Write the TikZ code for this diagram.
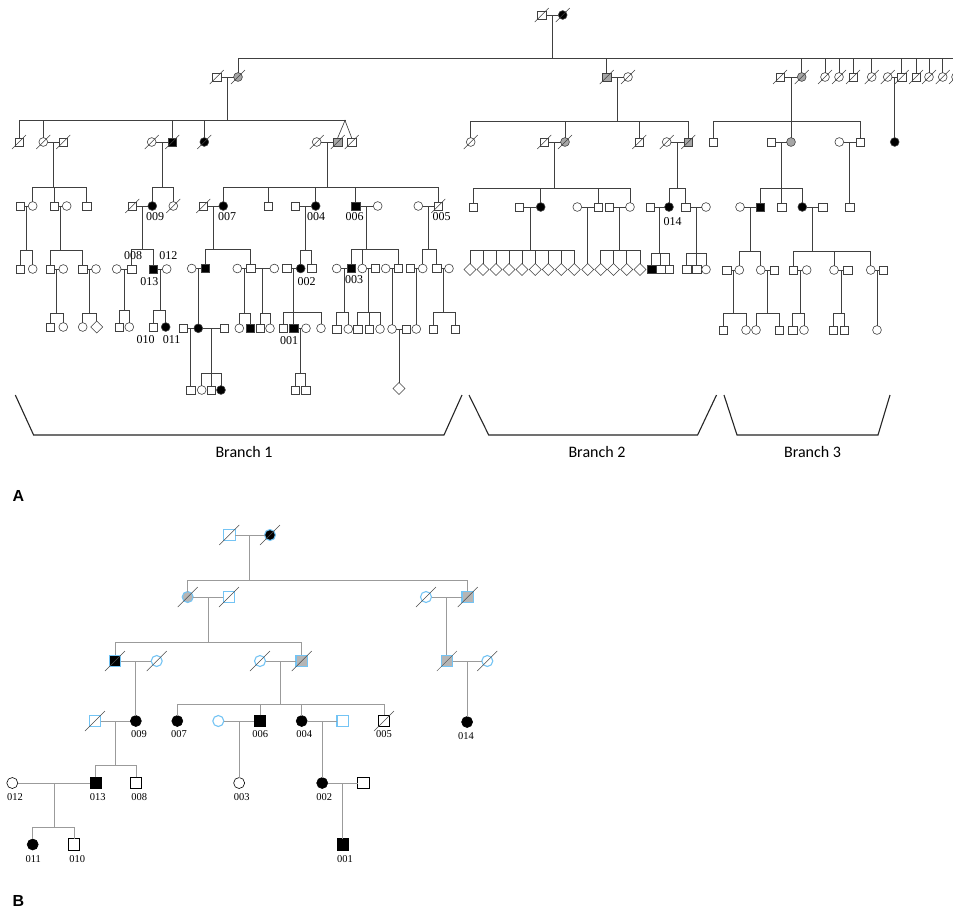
\documentclass[tikz,border=0pt]{standalone}
\usepackage{fontspec}
\setmainfont{Liberation Serif}
\newfontfamily\branchfont{Carlito}
\newfontfamily\panelfont{Liberation Sans}
\usetikzlibrary{shapes.geometric, calc}
\definecolor{pedline}{HTML}{404040}
\definecolor{carrier}{HTML}{A6A6A6}
\definecolor{lineB}{HTML}{9B9B9B}
\definecolor{carrierB}{HTML}{B5B5B5}
\definecolor{blueB}{HTML}{74C4F4}

% sibship: parents #1 #2, sibship line at y=#3, children #4
\newcommand{\kids}[4]{%
  \path ($(#1)!0.5!(#2)$) coordinate (mid);
  \draw[conn] (mid) -- (mid |- 0,#3);
  \foreach \c in {#4} {\draw[conn] (\c.north) |- (mid |- 0,#3);}
}
% only child straight below the parents
\newcommand{\onekid}[3]{%
  \path ($(#1)!0.5!(#2)$) coordinate (mid);
  \draw[conn] (mid) -- (mid |- #3.north);
}

\begin{document}
\begin{tikzpicture}[x=1pt, y=-1pt,
    base/.style={draw=pedline, line width=0.6pt, fill=white, inner sep=0pt, outer sep=0pt},
    male/.style={base, rectangle, minimum size=8.3pt},
    female/.style={base, circle, minimum size=8.8pt},
    unk/.style={base, diamond, minimum size=12pt},
    aff/.style={fill=black},
    car/.style={fill=carrier},
    slash/.style={draw=pedline, line width=0.5pt},
    dec/.style={append after command={([shift={(-7,7)}]\tikzlastnode.center) edge[slash] ([shift={(7,-7)}]\tikzlastnode.center)}},
    conn/.style={draw=pedline, line width=0.65pt},
    pid/.style={font=\fontsize{12}{12}\selectfont, inner sep=0pt},
    bracket/.style={draw=black!85, line width=1.1pt},
    branch/.style={font=\branchfont\fontsize{16}{16}\selectfont},
    panel/.style={font=\panelfont\bfseries\fontsize{16}{16}\selectfont, anchor=west, inner sep=0pt}
  ]
  \path[use as bounding box, fill=white] (0,0) rectangle (953,911);

  %%%%%%%%%%%%%%%% Panel A %%%%%%%%%%%%%%%%
  % Generation I
  \node[male, dec] (gI1) at (541.7,15) {};
  \node[female, aff, dec] (gI2) at (562.7,15) {};

  % Generation II
  \node[male, dec] (b1a) at (216.7,77) {};
  \node[female, car, dec] (b1b) at (238,77) {};
  \node[male, car, dec] (b2a) at (606.7,77) {};
  \node[female, dec] (b2b) at (628,77) {};
  \node[male, dec] (b3a) at (780,77) {};
  \node[female, car, dec] (b3b) at (801.7,77) {};
  \node[female, dec] (s1) at (825,77) {};
  \node[female, dec] (s2) at (839,77) {};
  \node[male, dec] (s3) at (853,77) {};
  \node[female, dec] (s4) at (871.7,77) {};
  \node[female, dec] (s5) at (887.7,77) {};
  \node[male, dec] (s6) at (901.7,77) {};
  \node[male, dec] (s7) at (916,77) {};
  \node[female, dec] (s8) at (929,77) {};
  \node[female, dec] (s9) at (942.7,77) {};
  \node[female, dec] (s10) at (956,77) {};

  % Generation III
  \node[male, dec] (c1) at (19,142) {};
  \node[female, dec] (c2) at (43.3,142) {};
  \node[male, dec] (c2s) at (63.3,142) {};
  \node[female, dec] (c3s) at (151.7,142) {};
  \node[male, aff, dec] (c3) at (172.3,142) {};
  \node[female, aff, dec] (c4) at (204.3,142) {};
  \node[female, dec] (c5s) at (316.7,142) {};
  \node[male, car, dec] (c5) at (337.7,142) {};
  \node[male, dec] (c6) at (351.7,142) {};
  \node[inner sep=0pt, minimum size=0pt] (tw) at (345,120.5) {};
  \node[female, dec] (d1) at (470.7,142) {};
  \node[male, dec] (d2s) at (544.3,142) {};
  \node[female, car, dec] (d2) at (565,142) {};
  \node[male, dec] (d3) at (639.3,142) {};
  \node[female, dec] (d4s) at (666.7,142) {};
  \node[male, car, dec] (d4) at (688.3,142) {};
  \node[male] (e1) at (713.3,142) {};
  \node[male] (e2s) at (771,142) {};
  \node[female, car] (e2) at (791,142) {};
  \node[female] (e3s) at (839.3,142) {};
  \node[male] (e3) at (860,142) {};
  \node[female, aff] (r0) at (894.7,142) {};

  % Generation IV
  \node[male] (f1s) at (20,206) {};
  \node[female] (f1) at (32.7,206) {};
  \node[male] (f2) at (54,206) {};
  \node[female] (f2s) at (66.7,206) {};
  \node[male] (f3) at (86.7,206) {};
  \node[male, dec] (f4s) at (132.3,206) {};
  \node[female, aff] (f4) at (152.3,206) {};
  \node[female, dec] (f5) at (173.3,206) {};
  \node[male, dec] (f6s) at (203.3,206) {};
  \node[female, aff] (f6) at (223.3,206) {};
  \node[male] (f7) at (268.3,206) {};
  \node[male] (f8s) at (295,206) {};
  \node[female, aff] (f8) at (315.7,206) {};
  \node[male, aff] (f9) at (355.7,206) {};
  \node[female] (f9s) at (377.7,206) {};
  \node[female] (f10s) at (418.3,206) {};
  \node[male, dec] (f10) at (438.3,206) {};
  \node[male] (g1) at (473.3,207) {};
  \node[male] (g2s) at (519.3,207) {};
  \node[female, aff] (g2) at (540.7,207) {};
  \node[female] (g3s) at (577.3,207) {};
  \node[male] (g3) at (598.3,207) {};
  \node[male] (g4s) at (609.3,207) {};
  \node[female] (g4) at (630,207) {};
  \node[male] (g5s) at (650,207) {};
  \node[female, aff] (g5) at (669,207) {};
  \node[male] (g6) at (685.7,207) {};
  \node[female] (g6s) at (706,207) {};
  \node[female] (h1s) at (740,207) {};
  \node[male, aff] (h1) at (760,207) {};
  \node[male] (h2) at (781.7,207) {};
  \node[female, aff] (h3) at (802.3,207) {};
  \node[male] (h3s) at (822.7,207) {};
  \node[male] (h4) at (849.7,207) {};

  % Generation V
  \node[male] (k1) at (20,269) {};
  \node[female] (k2) at (32.7,269) {};
  \node[male] (k3) at (50,269) {};
  \node[female] (k3s) at (63.3,269) {};
  \node[male] (k4) at (82.7,269) {};
  \node[female] (k4s) at (96,269) {};
  \node[female] (k5s) at (116.7,269) {};
  \node[male] (k5) at (131.7,269) {};
  \node[male, aff] (k6) at (153,269) {};
  \node[female] (k6s) at (166.7,269) {};
  \node[female] (k7s) at (191.7,268.5) {};
  \node[male, aff] (k7) at (205,268.5) {};
  \node[female] (k8s) at (237.3,268.5) {};
  \node[male] (k8) at (250.7,268.5) {};
  \node[female] (k8t) at (274.3,268.5) {};
  \node[male] (k9s) at (286.7,268.5) {};
  \node[female, aff] (k9) at (300.7,268.5) {};
  \node[male] (k10) at (311.7,268.5) {};
  \node[female] (k11s) at (336.7,268.5) {};
  \node[male, aff] (k11) at (351,268.5) {};
  \node[female] (k12) at (362.3,268.5) {};
  \node[male] (k12s) at (375,268.5) {};
  \node[female] (k13s) at (385.7,268.5) {};
  \node[male] (k13) at (398.3,268.5) {};
  \node[male] (k14s) at (410,268.5) {};
  \node[female] (k14) at (422.7,268.5) {};
  \node[male] (k15) at (436.7,268.5) {};
  \node[female] (k15s) at (449,268.5) {};
  \foreach \i/\x in {1/470,2/483,3/496,4/509,5/522,6/535.3,7/548.3,8/561.3,9/574.3,
                     10/587.8,11/600.7,12/613.5,13/626.7,14/640}
    \node[unk] (n\i) at (\x,269.5) {};
  \node[male, aff] (p1) at (651.7,269.5) {};
  \node[male] (p2) at (660.7,269.5) {};
  \node[male] (p3) at (669.3,269.5) {};
  \node[male] (p4) at (686.7,269.5) {};
  \node[male] (p5) at (696.7,269.5) {};
  \node[female] (p6) at (706,269.5) {};
  \node[male] (q1s) at (726.7,270) {};
  \node[female] (q1) at (739.3,270) {};
  \node[female] (q2) at (760.7,270) {};
  \node[male] (q2s) at (774,270) {};
  \node[male] (q3) at (793.3,270) {};
  \node[female] (q3s) at (806.7,270) {};
  \node[female] (q4) at (834,270) {};
  \node[male] (q4s) at (847.7,270) {};
  \node[female] (q5) at (870.7,270) {};
  \node[male] (q5s) at (883.3,270) {};

  % Generation VI
  \node[male] (r1) at (50,327) {};
  \node[female] (r2) at (63.3,327) {};
  \node[female] (r3) at (82.7,327) {};
  \node[unk] (r4) at (96.7,327) {};
  \node[male] (r5) at (119,327) {};
  \node[female] (r6) at (129.3,327) {};
  \node[male] (r7) at (153.3,327) {};
  \node[female, aff] (r8) at (165.7,327) {};
  \node[male] (r9l) at (183.3,328.3) {};
  \node[female, aff] (r9) at (198.3,328.3) {};
  \node[male] (r9r) at (224,328.3) {};
  \node[female] (r10) at (239.3,328.3) {};
  \node[male, aff] (r11) at (250,328.3) {};
  \node[male] (r12) at (260,328.3) {};
  \node[female] (r13) at (270,328.3) {};
  \node[male] (r14) at (283.3,328.3) {};
  \node[male, aff] (r15) at (293.7,328.3) {};
  \node[female] (r15s) at (306,328.3) {};
  \node[female] (r16) at (321,328.3) {};
  \node[male] (r17) at (336.7,329) {};
  \node[female] (r18) at (348.3,329) {};
  \node[male] (r19) at (357.7,329) {};
  \node[male] (r20) at (369,329) {};
  \node[female] (r21) at (380,329) {};
  \node[female] (r22) at (392,329) {};
  \node[male] (r22s) at (406,329) {};
  \node[female] (r23) at (416.3,329) {};
  \node[male] (r24) at (433.3,329) {};
  \node[male] (r25) at (455,329) {};
  \node[male] (t1) at (723.3,330) {};
  \node[female] (t2) at (746,330) {};
  \node[female] (t3) at (756,330) {};
  \node[male] (t4) at (779,330) {};
  \node[male] (t5) at (792.7,330) {};
  \node[female] (t6) at (804,330) {};
  \node[male] (t7) at (833.3,330) {};
  \node[male] (t8) at (844.3,330) {};
  \node[female] (t9) at (877,330) {};

  % Generation VII
  \node[male] (v1) at (190.8,390) {};
  \node[female] (v2) at (201.7,390) {};
  \node[male] (v3) at (211.2,390) {};
  \node[female, aff] (v4) at (221,390) {};
  \node[male] (v5) at (295,390) {};
  \node[male] (v6) at (305.7,390) {};
  \node[unk] (v7) at (399,388.5) {};

  % Marriages
  \foreach \a/\b in {gI1/gI2, b1a/b1b, b2a/b2b, b3a/b3b, s5/s6, c2/c2s, c3s/c3, c5s/c5,
      d2s/d2, d4s/d4, e2s/e2, e3s/e3, f1s/f1, f2/f2s, f4s/f4, f6s/f6, f8s/f8, f9/f9s,
      f10s/f10, g2s/g2, g3s/g3, g4s/g4, g5s/g5, g6/g6s, h1s/h1, h3/h3s, k3/k3s, k4/k4s,
      k5s/k5, k6/k6s, k7s/k7, k8s/k8, k8/k8t, k9s/k9, k11s/k11, k12/k12s, k13s/k13,
      k14s/k14, k15/k15s, q1s/q1, q2/q2s, q3/q3s, q4/q4s, q5/q5s, r9l/r9, r9/r9r,
      r15/r15s, r22/r22s}
    \draw[conn] (\a) -- (\b);

  % Descent lines
  \kids{gI1}{gI2}{58}{b1b,b2a,b3b,s1,s2,s3,s4,s6,s7,s8,s9,s10}
  \kids{b1a}{b1b}{120.5}{c1,c2,c3,c4,tw}
  \draw[conn] (c5.north) -- (tw.center) -- (c6.north);
  \kids{b2a}{b2b}{121}{d1,d2,d3,d4}
  \kids{b3a}{b3b}{121}{e1,e2,e3}
  \onekid{s5}{s6}{r0}
  \kids{c2}{c2s}{187.5}{f1,f2,f3}
  \kids{c3s}{c3}{187.5}{f4,f5}
  \kids{c5s}{c5}{187.5}{f6,f7,f8,f9,f10}
  \kids{d2s}{d2}{188}{g1,g2,g3,g4}
  \kids{d4s}{d4}{188}{g5,g6}
  \kids{e2s}{e2}{188}{h1,h2,h3}
  \onekid{e3s}{e3}{h4}
  \kids{f1s}{f1}{250}{k1,k2}
  \kids{f2}{f2s}{250}{k3,k4}
  \kids{f4s}{f4}{249.5}{k5,k6}
  \kids{f6s}{f6}{249.5}{k7,k8}
  \kids{f8s}{f8}{250}{k9,k10}
  \kids{f9}{f9s}{249.5}{k11,k12,k13}
  \kids{f10s}{f10}{249.5}{k14,k15}
  \kids{g2s}{g2}{250.5}{n1,n2,n3,n4,n5,n6,n7,n8,n9}
  \onekid{g3s}{g3}{n10}
  \kids{g4s}{g4}{250.5}{n11,n12,n13,n14}
  \kids{g5s}{g5}{253}{p1,p2,p3}
  \kids{g6}{g6s}{253}{p4,p5,p6}
  \kids{h1s}{h1}{251}{q1,q2}
  \kids{h3}{h3s}{251}{q3,q4,q5}
  \kids{k3}{k3s}{313}{r1,r2}
  \kids{k4}{k4s}{313}{r3,r4}
  \kids{k5s}{k5}{310}{r5,r6}
  \kids{k6}{k6s}{310}{r7,r8}
  \onekid{k7s}{k7}{r9}
  \kids{k8s}{k8}{313}{r10,r11}
  \kids{k8}{k8t}{313}{r12,r13}
  \kids{k9s}{k9}{312}{r14,r15,r16}
  \kids{k11s}{k11}{312}{r17,r18}
  \kids{k12}{k12s}{312}{r19,r20,r21}
  \onekid{k13s}{k13}{r22}
  \onekid{k14s}{k14}{r23}
  \kids{k15}{k15s}{312}{r24,r25}
  \kids{q1s}{q1}{313.5}{t1,t2}
  \kids{q2}{q2s}{313.5}{t3,t4}
  \kids{q3}{q3s}{313.5}{t5,t6}
  \kids{q4}{q4s}{313.5}{t7,t8}
  \onekid{q5}{q5s}{t9}
  \onekid{r9l}{r9}{v1}
  \kids{r9}{r9r}{373}{v2,v3,v4}
  \kids{r15}{r15s}{373}{v5,v6}
  \onekid{r22}{r22s}{v7}

  % Patient IDs
  \node[pid] (a009) at (155,217) {009};
  \node[pid] (a007) at (227,217) {007};
  \node[pid] (a004) at (316,217) {004};
  \node[pid] (a006) at (354.5,217) {006};
  \node[pid] (a005) at (441.7,217) {005};
  \node[pid] (a014) at (672.7,221.7) {014};
  \node[pid] (a008) at (133,256) {008};
  \node[pid] (a012) at (168.3,256) {012};
  \node[pid] (a013) at (149.3,281.7) {013};
  \node[pid] (a002) at (306.7,281.7) {002};
  \node[pid] (a003) at (354,280) {003};
  \node[pid] (a001) at (289,341) {001};
  \node[pid] (a010) at (145.7,339.3) {010};
  \node[pid] (a011) at (171.7,339.3) {011};

  % Branches
  \draw[bracket] (15.3,395) -- (33.6,435) -- (444,435) -- (462,395);
  \draw[bracket] (469,395) -- (488.7,435) -- (697.6,435) -- (716.5,395);
  \draw[bracket] (724,395) -- (737,435) -- (878,435) -- (890,395);
  \node[branch] (br1) at (244,451.7) {Branch 1};
  \node[branch] (br2) at (597,451.7) {Branch 2};
  \node[branch] (br3) at (812.5,451.7) {Branch 3};
  \node[panel] (pA) at (12.5,496) {A};

  %%%%%%%%%%%%%%%% Panel B %%%%%%%%%%%%%%%%
  \begin{scope}[
      base/.style={draw=black, line width=0.6pt, fill=white, inner sep=0pt, outer sep=0pt},
      male/.style={base, rectangle, minimum size=11.5pt},
      female/.style={base, circle, minimum size=11pt},
      car/.style={fill=carrierB},
      bl/.style={draw=blueB, line width=1.1pt},
      slash/.style={draw=black!70, line width=0.5pt},
      dec/.style={append after command={([shift={(-10,10)}]\tikzlastnode.center) edge[slash] ([shift={(10,-10)}]\tikzlastnode.center)}},
      conn/.style={draw=lineB, line width=0.8pt},
      pid/.style={font=\fontsize{10.5}{10.5}\selectfont, inner sep=0pt}
    ]
    \node[male, bl, dec] (B1) at (229.3,535) {};
    \node[female, aff, bl, dec] (B2) at (270,535) {};
    \node[female, car, bl, dec] (B3) at (187.7,597) {};
    \node[male, bl, dec] (B4) at (229,597) {};
    \node[female, bl, dec] (B5) at (426,597) {};
    \node[male, car, bl, dec] (B6) at (467.7,597) {};
    \node[male, aff, bl, dec] (B7) at (115,661) {};
    \node[female, bl, dec] (B8) at (156.7,661) {};
    \node[female, bl, dec] (B9) at (260,661) {};
    \node[male, car, bl, dec] (B10) at (301.7,661) {};
    \node[male, car, bl, dec] (B11) at (446.85,661) {};
    \node[female, bl, dec] (B12) at (487.3,661) {};
    \node[male, bl, dec] (B13) at (95,721) {};
    \node[female, aff] (B14) at (135.85,721) {};
    \node[female, aff] (B15) at (177.3,721) {};
    \node[female, bl] (B16) at (218.3,721) {};
    \node[male, aff] (B17) at (260,721) {};
    \node[female, aff] (B18) at (301.7,721) {};
    \node[male, bl] (B19) at (342.7,721) {};
    \node[male, dec] (B20) at (384,721) {};
    \node[female, aff] (B21) at (467.1,722) {};
    \node[female] (B22) at (12.3,783) {};
    \node[male, aff] (B23) at (95.7,783) {};
    \node[male] (B24) at (136,783) {};
    \node[female] (B25) at (239.15,783) {};
    \node[female, aff] (B26) at (322.2,783) {};
    \node[male] (B27) at (363.3,783) {};
    \node[female, aff] (B28) at (32.7,844.5) {};
    \node[male] (B29) at (74,844.5) {};
    \node[male, aff] (B30) at (342.75,844.5) {};

    \foreach \a/\b in {B1/B2, B3/B4, B5/B6, B7/B8, B9/B10, B11/B12, B13/B14,
        B16/B17, B18/B19, B22/B23, B26/B27}
      \draw[conn] (\a) -- (\b);

    \kids{B1}{B2}{580}{B3,B6}
    \kids{B3}{B4}{642.3}{B7,B10}
    \onekid{B5}{B6}{B11}
    \onekid{B7}{B8}{B14}
    \kids{B9}{B10}{704}{B15,B17,B18,B20}
    \onekid{B11}{B12}{B21}
    \kids{B13}{B14}{765.7}{B23,B24}
    \onekid{B16}{B17}{B25}
    \onekid{B18}{B19}{B26}
    \kids{B22}{B23}{827.3}{B28,B29}
    \onekid{B26}{B27}{B30}

    \node[pid] (b009) at (139,734) {009};
    \node[pid] (b007) at (179,734) {007};
    \node[pid] (b006) at (260.3,734) {006};
    \node[pid] (b004) at (304.3,734) {004};
    \node[pid] (b005) at (384,734) {005};
    \node[pid] (b014) at (466,736) {014};
    \node[pid] (b012) at (15,797.3) {012};
    \node[pid] (b013) at (97.7,797.3) {013};
    \node[pid] (b008) at (139.3,797.3) {008};
    \node[pid] (b003) at (241.7,797.3) {003};
    \node[pid] (b002) at (324.3,797.3) {002};
    \node[pid] (b011) at (33.3,859.3) {011};
    \node[pid] (b010) at (77.3,859.3) {010};
    \node[pid] (b001) at (345,859.3) {001};
  \end{scope}
  \node[panel] (pB) at (12.5,901) {B};
\end{tikzpicture}
\end{document}
